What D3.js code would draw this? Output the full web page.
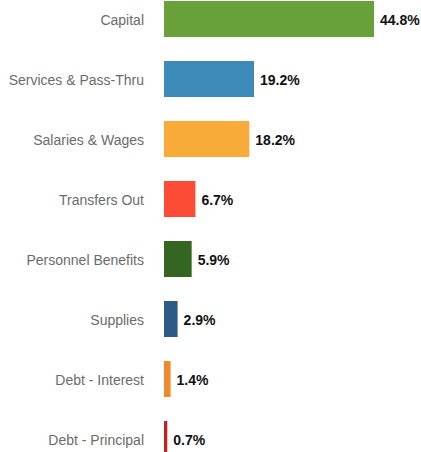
<!DOCTYPE html>
<html>
<head>
<meta charset="utf-8">
<script src="https://cdn.jsdelivr.net/npm/d3@7"></script>
<style>
  body { margin: 0; background: #fff; }
  svg { display: block; font-family: "Liberation Sans", Arial, Helvetica, sans-serif; }
  .label { fill: #6b6b6b; font-size: 14px; }
  .value { fill: #111; font-size: 14px; font-weight: bold; }
</style>
</head>
<body>
<svg id="chart"></svg>
<script>
  // Spending by category, percent of total
  const categories = [
    'Capital',
    'Services & Pass-Thru',
    'Salaries & Wages',
    'Transfers Out',
    'Personnel Benefits',
    'Supplies',
    'Debt - Interest',
    'Debt - Principal'
  ];
  const values = [44.8, 19.2, 18.2, 6.7, 5.9, 2.9, 1.4, 0.7];
  const colors = ['#68a03a', '#3b8ab7', '#f8ab39', '#fc4c36', '#356621', '#2c5b86', '#f0892c', '#c0221f'];

  const WIDTH = 421;
  const HEIGHT = 452;
  const margin = { left: 164, top: 1 };

  const data = categories.map((c, i) => ({ category: c, value: values[i], color: colors[i] }));

  const svg = d3.select('#chart')
    .attr('width', WIDTH)
    .attr('height', HEIGHT);

  const scale = {};
  scale.x = d3.scaleLinear()
    .domain([0, d3.max(values)])
    .range([margin.left, 374]);

  scale.y = d3.scaleBand()
    .domain(categories)
    .range([margin.top, margin.top + 60 * categories.length - 24])
    .paddingInner(0.4)
    .paddingOuter(0);

  const rows = svg.append('g')
    .selectAll('g')
    .data(data)
    .join('g');

  rows.append('rect')
    .attr('x', scale.x(0))
    .attr('y', d => scale.y(d.category))
    .attr('width', d => scale.x(d.value) - scale.x(0))
    .attr('height', scale.y.bandwidth())
    .attr('fill', d => d.color);

  rows.append('text')
    .attr('class', 'label')
    .attr('x', margin.left - 20)
    .attr('y', d => scale.y(d.category) + scale.y.bandwidth() / 2)
    .attr('dy', '0.43em')
    .attr('text-anchor', 'end')
    .text(d => d.category);

  rows.append('text')
    .attr('class', 'value')
    .attr('x', d => scale.x(d.value) + 6)
    .attr('y', d => scale.y(d.category) + scale.y.bandwidth() / 2)
    .attr('dy', '0.43em')
    .text(d => d.value.toFixed(1) + '%');
</script>
</body>
</html>
